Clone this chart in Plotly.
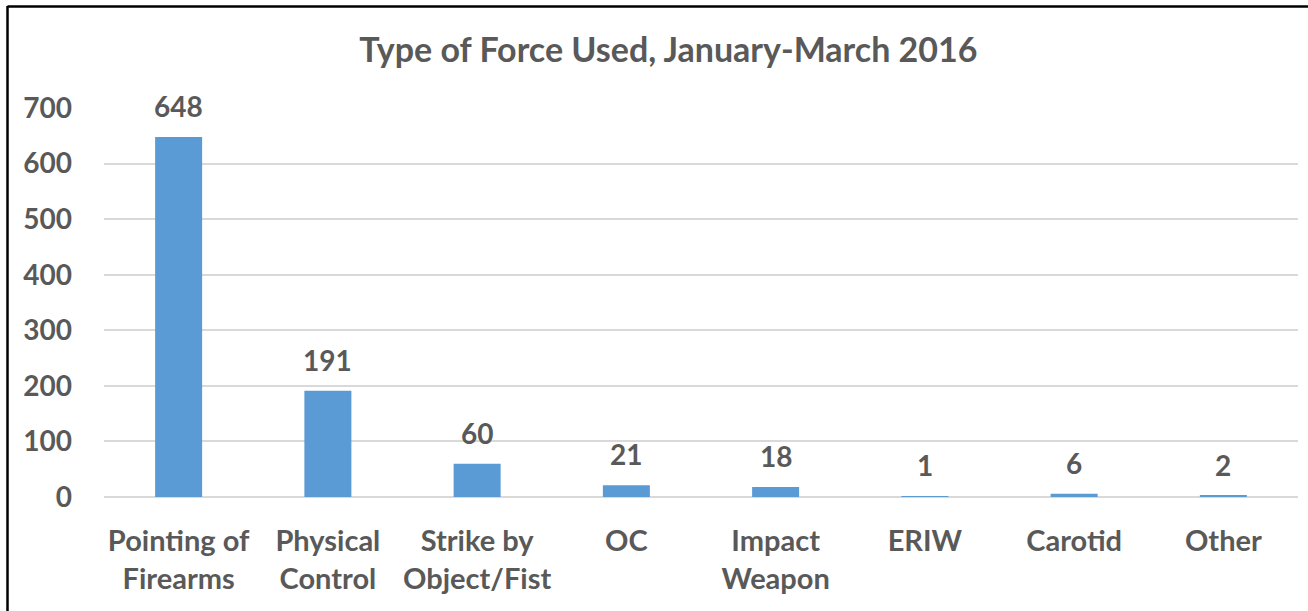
import plotly.graph_objects as go

# data
categories = ["Pointing of<br>Firearms", "Physical<br>Control", "Strike by<br>Object/Fist",
              "OC", "Impact<br>Weapon", "ERIW", "Carotid", "Other"]
counts = [648, 191, 60, 21, 18, 1, 6, 2]
y_ticks = [0, 100, 200, 300, 400, 500, 600, 700]

FONT = "Lato, Calibri, sans-serif"
GRAY = "#595959"

fig = go.Figure()
fig.add_trace(go.Bar(x=categories, y=counts, marker_color="#5B9BD5",
                     marker_line_width=0, width=0.315))

# value labels above bars
for cat, val in zip(categories, counts):
    fig.add_annotation(x=cat, y=val, text=f"<b>{val}</b>", showarrow=False,
                       yanchor="bottom", yshift=12,
                       font=dict(family=FONT, size=28, color=GRAY))

fig.update_layout(
    width=1308, height=611,
    margin=dict(l=104, r=10, t=108, b=114),
    plot_bgcolor="white", paper_bgcolor="white",
    showlegend=False,
    title=dict(text="<b>Type of Force Used, January-March 2016</b>",
               x=0.511, xanchor="center", y=1 - 50 / 611, yanchor="middle",
               font=dict(family=FONT, size=34, color=GRAY)),
)

fig.update_xaxes(ticktext=[f"<b>{c}</b>" for c in categories], tickvals=categories,
                 tickfont=dict(family=FONT, size=29, color=GRAY),
                 showline=False, ticks="", ticklabelstandoff=24)
fig.update_yaxes(range=[0, 700], tickvals=y_ticks,
                 ticktext=[f"<b>{v}</b>" for v in y_ticks],
                 tickfont=dict(family=FONT, size=28, color=GRAY),
                 showgrid=True, gridcolor="#D9D9D9", gridwidth=1.5,
                 zeroline=True, zerolinecolor="#D9D9D9", zerolinewidth=1.5,
                 ticklabelstandoff=31, showline=False)

# chart border (left and top edges visible in the crop)
fig.add_shape(type="line", xref="paper", yref="paper",
              x0=(7.5 - 104) / 1194, x1=(7.5 - 104) / 1194,
              y0=(497 - 6) / 389, y1=(497 - 620) / 389,
              line=dict(color="black", width=2.5))
fig.add_shape(type="line", xref="paper", yref="paper",
              x0=(7.5 - 104) / 1194, x1=(1320 - 104) / 1194,
              y0=(497 - 6.5) / 389, y1=(497 - 6.5) / 389,
              line=dict(color="black", width=2.5))

fig.write_html("out.html", config={"displayModeBar": False},
               post_script="document.body.style.margin='0';")
